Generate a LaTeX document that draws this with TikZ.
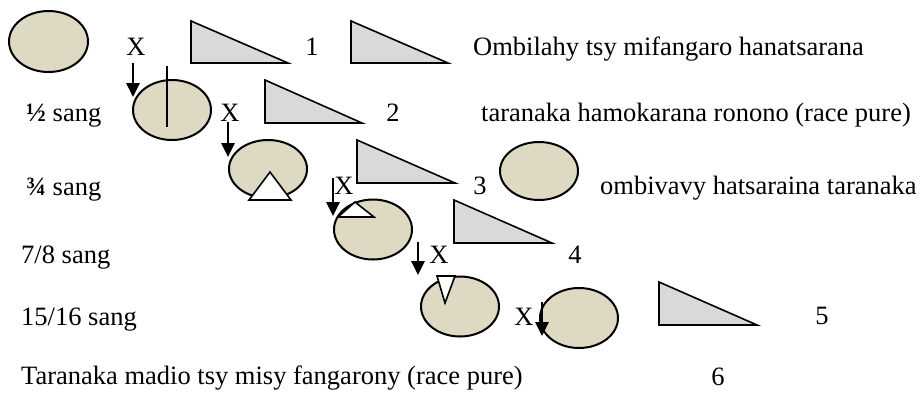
\documentclass[tikz,border=0pt]{standalone}
\usepackage{fontspec}
\setmainfont{Liberation Serif}
\usetikzlibrary{arrows.meta}
\definecolor{tan}{RGB}{221,217,195}
\definecolor{tri}{RGB}{217,217,217}
\tikzset{
  ell/.style={draw=black,line width=2pt,fill=tan},
  tri/.style={draw=black,line width=1.6pt,fill=tri,line join=miter},
  notch/.style={draw=black,line width=1.6pt,fill=white,line join=miter},
  lbl/.style={inner sep=0pt,anchor=base,font=\fontsize{26.5}{28}\selectfont},
  lblw/.style={inner sep=0pt,anchor=base west,font=\fontsize{26.5}{28}\selectfont},
  arr/.style={line width=2.6pt,-{Triangle[length=14pt,width=13pt]}},
}
\begin{document}
\begin{tikzpicture}[x=1pt,y=-1pt]
\useasboundingbox (0,0) rectangle (920,392);
% row 1
\draw[ell] (48.5,41.5) ellipse (39.5 and 30.5);
\node[lbl] (x1) at (136,55) {X};
\draw[tri] (191,21) -- (191,63) -- (288,63) -- cycle;
\node[lbl] (n1) at (312,55) {1};
\draw[tri] (351,21) -- (351,63) -- (448,63) -- cycle;
\node[lblw] (t1) at (473,55) {Ombilahy tsy mifangaro hanatsarana};
\coordinate (a1s) at (133,63); \coordinate (a1e) at (133,97);
\draw[arr] (a1s) -- (a1e);
% row 2
\node[lblw] (s2) at (26,121) {\textbf{½} sang};
\draw[ell] (172,110) ellipse (39 and 30);
\coordinate (v1) at (167,66); \coordinate (v2) at (167,127);
\draw[line width=1.8pt] (v1) -- (v2);
\node[lbl] (x2) at (230,121) {X};
\draw[tri] (265,80) -- (265,123) -- (362,123) -- cycle;
\node[lbl] (n2) at (393,121) {2};
\node[lblw] (t2) at (481,121) {taranaka hamokarana ronono (race pure)};
\coordinate (a2s) at (228,122); \coordinate (a2e) at (228,157);
\draw[arr] (a2s) -- (a2e);
% row 3
\node[lblw] (s3) at (26,195) {\textbf{¾} sang};
\draw[ell] (268,169) ellipse (39 and 29);
\draw[notch] (270,172) -- (249,200) -- (291,200) -- cycle;
\draw[tri] (357,140) -- (357,183) -- (455,183) -- cycle;
\node[lbl] (x3) at (344,194) {X};
\node[lbl] (n3) at (480,194) {3};
\draw[ell] (539,171) ellipse (39 and 29);
\node[lblw] (t3) at (600,194) {ombivavy hatsaraina taranaka};
\coordinate (a3s) at (333,178); \coordinate (a3e) at (333,216);
\draw[arr] (a3s) -- (a3e);
% row 4
\draw[ell] (373,229.5) ellipse (39 and 30);
\draw[notch] (355,202) -- (338,217) -- (374,217) -- cycle;
\node[lblw] (s4) at (21,263) {7/8 sang};
\draw[tri] (454,200) -- (454,243) -- (552,243) -- cycle;
\node[lbl] (x4) at (439,263) {X};
\node[lbl] (n4) at (575,263) {4};
\coordinate (a4s) at (418,242); \coordinate (a4e) at (418,275);
\draw[arr] (a4s) -- (a4e);
% row 5
\draw[ell] (460,306.5) ellipse (39 and 30);
\draw[notch] (437,276) -- (455,276) -- (445,303) -- cycle;
\node[lblw] (s5) at (21,325) {15/16 sang};
\node[lbl] (x5) at (524,325) {X};
\draw[ell] (579,318) ellipse (39 and 30);
\coordinate (a5s) at (542,302); \coordinate (a5e) at (542,336);
\draw[arr] (a5s) -- (a5e);
\draw[tri] (659,282) -- (659,325) -- (757,325) -- cycle;
\node[lbl] (n5) at (822,324) {5};
% row 6
\node[lblw] (t6) at (21,384) {Taranaka madio tsy misy fangarony (race pure)};
\node[lbl] (n6) at (718,385) {6};
\end{tikzpicture}
\end{document}
